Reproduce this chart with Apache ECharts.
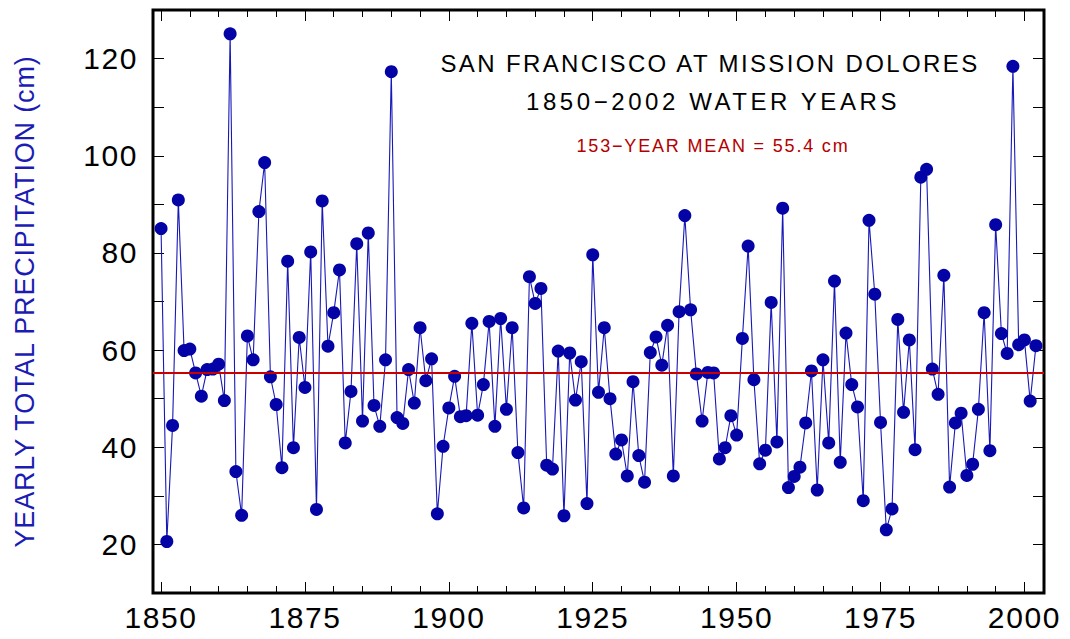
<!DOCTYPE html>
<html>
<head>
<meta charset="utf-8">
<script src="https://cdn.jsdelivr.net/npm/echarts@6/dist/echarts.min.js"></script>
<style>
  html, body { margin: 0; padding: 0; background: #fff; }
  #chart { width: 1070px; height: 639px; }
</style>
</head>
<body>
<div id="chart"></div>
<script>
// ---- Data ----
const years = [
  1850,1851,1852,1853,1854,1855,1856,1857,1858,1859,
  1860,1861,1862,1863,1864,1865,1866,1867,1868,1869,
  1870,1871,1872,1873,1874,1875,1876,1877,1878,1879,
  1880,1881,1882,1883,1884,1885,1886,1887,1888,1889,
  1890,1891,1892,1893,1894,1895,1896,1897,1898,1899,
  1900,1901,1902,1903,1904,1905,1906,1907,1908,1909,
  1910,1911,1912,1913,1914,1915,1916,1917,1918,1919,
  1920,1921,1922,1923,1924,1925,1926,1927,1928,1929,
  1930,1931,1932,1933,1934,1935,1936,1937,1938,1939,
  1940,1941,1942,1943,1944,1945,1946,1947,1948,1949,
  1950,1951,1952,1953,1954,1955,1956,1957,1958,1959,
  1960,1961,1962,1963,1964,1965,1966,1967,1968,1969,
  1970,1971,1972,1973,1974,1975,1976,1977,1978,1979,
  1980,1981,1982,1983,1984,1985,1986,1987,1988,1989,
  1990,1991,1992,1993,1994,1995,1996,1997,1998,1999,
  2000,2001,2002
];
const precipitation = [
  85.0,20.6,44.5,90.9,59.9,60.2,55.3,50.5,56.0,56.1,
  57.1,49.6,125.1,35.0,26.0,62.9,58.0,88.5,98.6,54.5,
  48.8,35.8,78.3,39.9,62.6,52.3,80.2,27.2,90.7,60.8,
  67.7,76.5,40.9,51.5,81.9,45.4,84.1,48.6,44.3,58.0,
  117.3,46.1,44.9,56.0,49.1,64.6,53.7,58.2,26.3,40.2,
  48.1,54.6,46.3,46.5,65.5,46.6,52.9,65.9,44.3,66.5,
  47.8,64.6,38.9,27.5,75.1,69.6,72.7,36.3,35.5,59.8,
  25.9,59.4,49.7,57.6,28.4,79.6,51.3,64.6,50.0,38.6,
  41.5,34.1,53.5,38.3,32.8,59.5,62.7,56.9,65.1,34.1,
  67.9,87.7,68.3,55.1,45.4,55.4,55.3,37.6,39.9,46.5,
  42.5,62.4,81.4,53.9,36.6,39.4,69.8,41.1,89.2,31.7,
  34.0,35.9,45.0,55.7,31.2,58.0,40.9,74.2,36.9,63.5,
  52.9,48.3,29.0,86.7,71.5,45.1,23.0,27.3,66.3,47.2,
  62.1,39.5,95.6,97.2,56.1,50.9,75.4,31.8,45.0,47.0,
  34.2,36.5,47.8,67.7,39.3,85.8,63.4,59.3,118.4,61.1,
  62.1,49.5,60.9
];
const meanValue = 55.4;
const xLabelValues = [1850, 1875, 1900, 1925, 1950, 1975, 2000];
const xMinorTickValues = [1850,1855,1860,1865,1870,1875,1880,1885,1890,1895,1900,1905,1910,1915,1920,1925,1930,1935,1940,1945,1950,1955,1960,1965,1970,1975,1980,1985,1990,1995,2000];
const yLabelValues = [20, 40, 60, 80, 100, 120];
const titleLine1 = 'SAN FRANCISCO AT MISSION DOLORES';
const titleLine2 = '1850\u22122002 WATER YEARS';
const meanText = '153\u2212YEAR MEAN = 55.4 cm';
const yAxisName = 'YEARLY TOTAL PRECIPITATION (cm)';

// ---- Chart ----
const X_MIN = 1848.6, X_MAX = 2003.4, Y_MIN = 10, Y_MAX = 130;
const FONT = '"Liberation Sans", Arial, sans-serif';

const seriesData = years.map((y, i) => [y, precipitation[i]]);

function xAxisDef(position, ticks, len, showLabel) {
  return {
    type: 'value', gridIndex: 0, position: position,
    min: X_MIN, max: X_MAX,
    axisLine: { show: false },
    splitLine: { show: false },
    axisTick: { show: true, inside: true, length: len, customValues: ticks,
                lineStyle: { color: '#000', width: 1 } },
    axisLabel: { show: showLabel, customValues: xLabelValues, margin: 9,
                 color: '#000', fontSize: 30, fontFamily: FONT,
                 formatter: v => String(v) }
  };
}
function yAxisDef(position, showLabel) {
  return {
    type: 'value', gridIndex: 0, position: position,
    min: Y_MIN, max: Y_MAX, interval: 10,
    axisLine: { show: false },
    splitLine: { show: false },
    axisTick: { show: true, inside: true, length: 11, lineStyle: { color: '#000', width: 1 } },
    axisLabel: { show: showLabel, customValues: yLabelValues, margin: 15,
                 color: '#000', fontSize: 30, fontFamily: FONT },
    name: showLabel ? yAxisName : '',
    nameLocation: 'middle', nameGap: 115, nameRotate: 90,
    nameTextStyle: { color: '#1c1cb4', fontSize: 27, fontFamily: FONT }
  };
}

const chart = echarts.init(document.getElementById('chart'), null, { renderer: 'svg' });
chart.setOption({
  animation: false,
  backgroundColor: '#fff',
  grid: { left: 153, right: 26, top: 10, bottom: 46, show: true,
          borderColor: '#000', borderWidth: 3, backgroundColor: 'transparent' },
  xAxis: [
    xAxisDef('bottom', xLabelValues, 11, true),
    xAxisDef('bottom', xMinorTickValues, 7, false),
    xAxisDef('top', xLabelValues, 11, false),
    xAxisDef('top', xMinorTickValues, 7, false)
  ],
  yAxis: [ yAxisDef('left', true), yAxisDef('right', false) ],
  graphic: [
    { type: 'text', x: 710, y: 63, style: { text: titleLine1, fill: '#000',
      font: '24px ' + FONT, textAlign: 'center', textVerticalAlign: 'middle' } },
    { type: 'text', x: 713, y: 101, style: { text: titleLine2, fill: '#000',
      font: '24px ' + FONT, textAlign: 'center', textVerticalAlign: 'middle' } },
    { type: 'text', x: 713, y: 146, style: { text: meanText, fill: '#b40000',
      font: '18px ' + FONT, textAlign: 'center', textVerticalAlign: 'middle' } }
  ],
  series: [
    {
      type: 'line', xAxisIndex: 0, yAxisIndex: 0, data: [], z: 1, silent: true,
      markLine: { silent: true, symbol: ['none', 'none'], label: { show: false },
                  lineStyle: { color: '#c80000', width: 2, type: 'solid' },
                  data: [{ yAxis: meanValue }] }
    },
    {
      type: 'line', xAxisIndex: 0, yAxisIndex: 0, data: seriesData, z: 3,
      showAllSymbol: true, symbol: 'circle', symbolSize: 13,
      itemStyle: { color: '#0303a6' },
      lineStyle: { color: '#1818b8', width: 1.1 }
    }
  ]
});

// widen lettering to match reference typography
const spacingTargets = {};
spacingTargets[titleLine1] = 539;
spacingTargets[titleLine2] = 374;
spacingTargets[meanText] = 273;
spacingTargets[yAxisName] = 492;
function applySpacing() {
  document.querySelectorAll('#chart svg text').forEach(t => {
    const s = t.textContent;
    if (spacingTargets[s]) {
      t.removeAttribute('letter-spacing');
      const w = t.getComputedTextLength();
      const sp = (spacingTargets[s] - w) / s.length;
      if (sp > 0) t.setAttribute('letter-spacing', sp.toFixed(2));
    } else if (/^\d+$/.test(s)) {
      t.setAttribute('letter-spacing', '1.6');
    }
  });
}
applySpacing();
chart.on('finished', applySpacing);
</script>
</body>
</html>
